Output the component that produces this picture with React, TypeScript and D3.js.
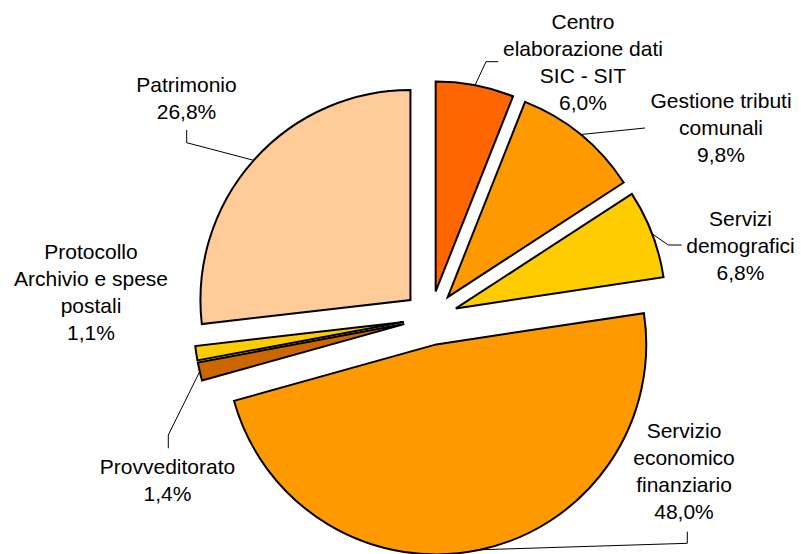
import React from "react";
import * as d3 from "d3";

const categories = [
  "Centro elaborazione dati SIC - SIT",
  "Gestione tributi comunali",
  "Servizi demografici",
  "Servizio economico finanziario",
  "Provveditorato",
  "Protocollo Archivio e spese postali",
  "Patrimonio",
];
const values = [6.0, 9.8, 6.8, 48.0, 1.4, 1.1, 26.8];
const valueLabels = ["6,0%", "9,8%", "6,8%", "48,0%", "1,4%", "1,1%", "26,8%"];
const labelLines = [
  ["Centro", "elaborazione dati", "SIC - SIT"],
  ["Gestione tributi", "comunali"],
  ["Servizi", "demografici"],
  ["Servizio", "economico", "finanziario"],
  ["Provveditorato"],
  ["Protocollo", "Archivio e spese", "postali"],
  ["Patrimonio"],
];
const colors = ["#FF6600", "#FF9900", "#FFCC00", "#FF9900", "#CC6600", "#FFCC00", "#FFCC99"];

// layout: label text anchor (center x, first baseline)
const labelPos: [number, number][] = [
  [583, 28.5],
  [721, 107.5],
  [740.5, 226],
  [684, 437.5],
  [167.5, 473.5],
  [91, 258.5],
  [186.5, 91.7],
];
// layout: leader elbow points (after the arc midpoint)
const leaders: ([number, number][] | null)[] = [
  [[486, 61.7], [498.3, 61.7]],
  [[645, 128]],
  [[668.3, 245], [681.7, 245]],
  [[687.3, 543.3], [687.3, 531.7]],
  [[168.3, 435], [168.3, 448.3]],
  null,
  [[186.7, 142.7], [186.7, 130]],
];

const W = 801;
const H = 554;
const CX = 430.6;
const CY = 318;
const R = 210;
const EXPLODE = 27;
const LINE_H = 27.2;

export default function App() {
  const pie = d3
    .pie<number>()
    .sort(null)
    .value((d) => d)
    .startAngle(0)
    .endAngle(2 * Math.PI);
  const arcs = pie(values);
  const arcGen = d3.arc<d3.PieArcDatum<number>>().innerRadius(0).outerRadius(R);

  return (
    <svg
      width={W}
      height={H}
      style={{ position: "absolute", left: 0, top: 0, background: "#fff" }}
      fontFamily="'Liberation Sans', Arial, sans-serif"
    >
      <rect width={W} height={H} fill="#fff" />
      {arcs.map((a, i) => {
        const mid = (a.startAngle + a.endAngle) / 2;
        const dx = EXPLODE * Math.sin(mid);
        const dy = -EXPLODE * Math.cos(mid);
        return (
          <path
            key={"s" + i}
            d={arcGen(a) || ""}
            transform={`translate(${CX + dx},${CY + dy})`}
            fill={colors[i]}
            stroke="#000"
            strokeWidth={2}
            strokeLinejoin="miter"
          />
        );
      })}
      {arcs.map((a, i) => {
        const pts = leaders[i];
        if (!pts) return null;
        const mid = (a.startAngle + a.endAngle) / 2;
        const sx = CX + (EXPLODE + R) * Math.sin(mid);
        const sy = CY - (EXPLODE + R) * Math.cos(mid);
        const all: [number, number][] = [[sx, sy], ...pts];
        const line = d3.line()(all) || "";
        return <path key={"l" + i} d={line} fill="none" stroke="#000" strokeWidth={1} />;
      })}
      {categories.map((c, i) => {
        const [x, y] = labelPos[i];
        const lines = [...labelLines[i], valueLabels[i]];
        return (
          <text key={"t" + i} x={x} y={y} textAnchor="middle" fontSize={21} fill="#000">
            {lines.map((ln, j) => (
              <tspan key={j} x={x} y={y + j * LINE_H}>
                {ln}
              </tspan>
            ))}
          </text>
        );
      })}
    </svg>
  );
}
